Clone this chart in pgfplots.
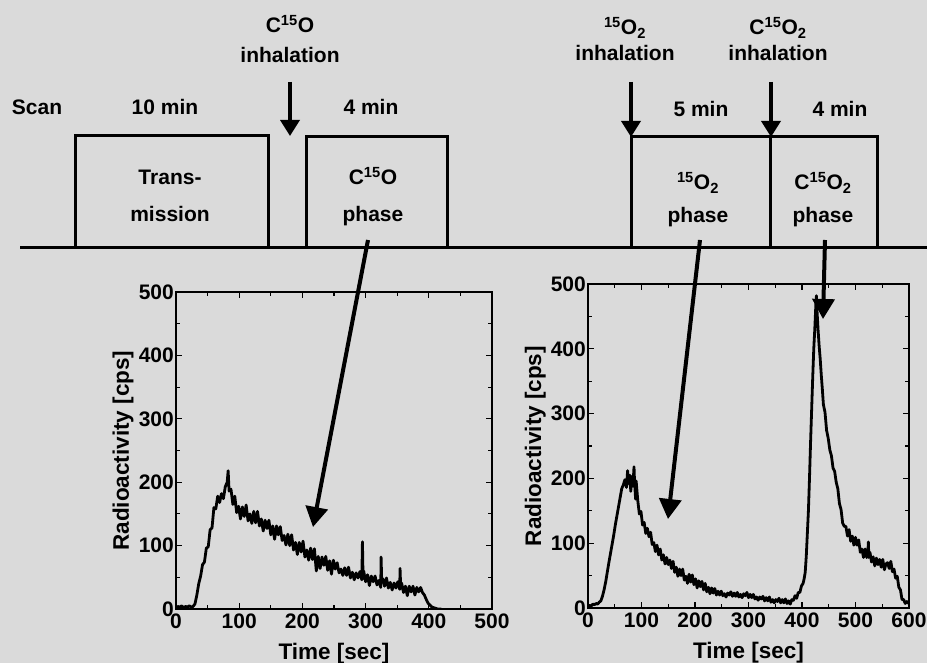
\documentclass[border=0pt]{standalone}
\usepackage{pgfplots}
\pgfplotsset{compat=1.18}
\usepackage{fontspec}
\setmainfont{Liberation Sans}
\usetikzlibrary{arrows.meta}
\definecolor{bgcol}{RGB}{218,218,218}
\newcommand{\txt}{\fontsize{21}{25}\selectfont\bfseries}
\pgfplotsset{
  radstyle/.style={
    scale only axis,
    ymin=0, ymax=500,
    ytick={0,100,...,500},
    minor tick num=1,
    tick align=inside,
    xtick pos=both, ytick pos=both,
    major tick length=6pt, minor tick length=4pt,
    axis line style={line width=1.2pt},
    every tick/.style={line width=1.1pt, black},
    /pgf/number format/assume math mode=true,
    tick label style={font=\fontsize{21}{21}\selectfont\bfseries, inner sep=0pt},
    xticklabel style={yshift=-5pt},
    yticklabel style={xshift=-2pt},
    xlabel={\bfseries Time [sec]},
    ylabel={\bfseries Radioactivity [cps]},
    label style={font=\fontsize{22.5}{22.5}\selectfont},
    xlabel style={at={(axis description cs:0.5,0)}, anchor=base, yshift=-50pt},
  }
}
\begin{document}
\begin{tikzpicture}
\path[use as bounding box, fill=bgcol] (0pt,0pt) rectangle (927pt,-663pt);

\begin{axis}[radstyle,
  at={(176pt,-609pt)}, anchor=south west,
  width=316pt, height=317pt,
  xmin=0, xmax=500, xtick={0,100,...,500},
  ylabel style={at={(axis description cs:-0.149,0.5)}, anchor=base, rotate=0},
]
\addplot[black, line width=2.8pt, line join=round] coordinates {
(0,2)(3,4)(6,3)(9,5)(12,2)(15,4)(18,3)(21,5)(24,3)(27,4)(30,8)(33,22)(36,40)(39,52)(42,70)(45,74)(48,96)(51,98)(54,125)(57,128)(60,160)(63,158)(66,178)(69,168)(72,182)(75,174)(78,193)(81,200)(82.5,218)(84,186)(87,189)(90,165)(93,178)(96,152)(99,162)(102,142)(105,161)(108,146)(111,164)(114,139)(117,150)(120,135)(123,154)(126,136)(129,154)(132,131)(135,142)(138,123)(141,140)(144,127)(147,140)(150,117)(153,131)(156,110)(159,131)(162,117)(165,130)(168,108)(171,116)(174,101)(177,118)(180,100)(183,117)(186,93)(189,105)(192,86)(195,105)(198,90)(201,107)(204,82)(207,93)(210,77)(213,96)(216,78)(219,95)(222,60)(225,83)(228,64)(231,82)(234,69)(237,83)(240,61)(243,76)(246,55)(249,77)(252,63)(255,73)(258,57)(261,63)(264,53)(267,65)(270,53)(273,66)(276,49)(279,58)(282,46)(285,57)(288,49)(291,59)(294,46)(295,106)(296,48)(297,60)(300,43)(303,54)(306,37)(309,52)(312,43)(315,52)(318,38)(321,45)(324,34)(324.5,82)(325.5,44)(327,48)(330,36)(333,49)(336,33)(339,42)(342,30)(345,41)(348,33)(351,43)(354,31)(354.5,64)(355.5,35)(357,41)(360,26)(363,36)(366,21)(369,36)(372,27)(375,36)(378,22)(381,34)(384,27)(387,34)(390,26)(393,22)(396,15)(399,9)(402,6)(405,3)(408,2)(411,1)(414,0)(417,0)(420,0)
};
\end{axis}

\begin{axis}[radstyle,
  at={(588pt,-608pt)}, anchor=south west,
  width=321pt, height=324pt,
  xmin=0, xmax=600, xtick={0,100,...,600},
  ylabel style={at={(axis description cs:-0.146,0.5)}, anchor=base, rotate=0},
]
\addplot[black, line width=2.8pt, line join=round] coordinates {
(0,2)(3,4)(6,3)(9,6)(12,5)(15,7)(18,6)(21,9)(24,11)(27,18)(30,28)(33,40)(36,55)(39,70)(42,84)(45,98)(48,112)(51,128)(54,142)(57,156)(60,170)(63,184)(66,190)(69,198)(72,186)(74,212)(75,192)(78,205)(80,180)(81,203)(84,188)(86,218)(87,195)(89,168)(90,196)(93,166)(96,145)(99,149)(102,128)(105,132)(108,115)(111,123)(114,110)(117,117)(120,98)(123,101)(126,87)(129,97)(132,82)(135,91)(138,74)(141,82)(144,68)(147,78)(150,67)(153,74)(156,61)(159,72)(162,55)(165,63)(168,49)(171,60)(174,50)(177,60)(180,43)(183,49)(186,38)(189,52)(192,40)(195,51)(198,36)(201,45)(204,31)(207,42)(210,33)(213,41)(216,28)(219,38)(222,25)(225,32)(228,22)(231,31)(234,23)(237,30)(240,20)(243,26)(246,20)(249,26)(252,19)(255,22)(258,17)(261,23)(264,20)(267,25)(270,18)(273,23)(276,18)(279,24)(282,17)(285,21)(288,16)(291,22)(294,19)(297,24)(300,16)(303,21)(306,16)(309,21)(312,14)(315,17)(318,12)(321,17)(324,14)(327,18)(330,11)(333,16)(336,11)(339,17)(342,9)(345,13)(348,8)(351,13)(354,10)(357,15)(360,8)(363,13)(366,8)(369,14)(372,7)(375,11)(378,6)(381,13)(384,12)(387,19)(390,15)(393,24)(396,24)(399,34)(402,38)(404,45)(406,55)(408,80)(410,115)(412,150)(414,200)(416,255)(418,305)(420,355)(422,400)(424,432)(426,470)(427,482)(428,460)(430,430)(432,405)(434,385)(436,360)(438,338)(440,314)(443,302)(446,274)(449,262)(452,244)(455,235)(458,216)(461,211)(464,194)(467,184)(470,161)(473,152)(476,131)(479,126)(482,126)(485,111)(488,121)(491,103)(494,111)(497,97)(500,109)(503,97)(506,105)(509,86)(512,91)(515,78)(518,91)(521,78)(523,82)(524,102)(525,78)(527,86)(530,71)(533,79)(536,65)(539,77)(542,67)(545,75)(548,63)(551,75)(554,59)(557,68)(560,70)(563,61)(566,72)(569,56)(572,60)(575,46)(578,49)(581,32)(584,28)(587,13)(590,13)(593,7)(596,10)(599,7)
};
\end{axis}

\begin{scope}[x=1pt,y=-1pt]
  % baseline and boxes
  \draw[line width=3pt] (20,248) -- (927,248);
  \draw[line width=3pt] (75,248) -- (75,136) -- (268,136) -- (268,248);
  \draw[line width=3pt] (306,248) -- (306,137) -- (447,137) -- (447,248);
  \draw[line width=3pt] (631,248) -- (631,137) -- (877,137) -- (877,248);
  \draw[line width=3pt] (770,137) -- (770,248);
  % short arrows
  \draw[line width=3.5pt, -{Triangle[width=19pt,length=16pt]}] (290,82) -- (290,136);
  \draw[line width=3.5pt, -{Triangle[width=19pt,length=16pt]}] (631,82) -- (631,137);
  \draw[line width=3.5pt, -{Triangle[width=19pt,length=16pt]}] (771,82) -- (771,137);
  % texts
  \node[anchor=base, inner sep=0pt] at (290,33) {\txt C\textsuperscript{15}O};
  \node[anchor=base, inner sep=0pt] at (290,63) {\txt inhalation};
  \node[anchor=base, inner sep=0pt] at (625,35) {\txt \textsuperscript{15}O\textsubscript{2}};
  \node[anchor=base, inner sep=0pt] at (625,61) {\txt inhalation};
  \node[anchor=base, inner sep=0pt] at (778,35) {\txt C\textsuperscript{15}O\textsubscript{2}};
  \node[anchor=base, inner sep=0pt] at (778,61) {\txt inhalation};
  \node[anchor=base, inner sep=0pt] at (37,115) {\txt Scan};
  \node[anchor=base, inner sep=0pt] at (165,115) {\txt 10 min};
  \node[anchor=base, inner sep=0pt] at (371,115) {\txt 4 min};
  \node[anchor=base, inner sep=0pt] at (701,117) {\txt 5 min};
  \node[anchor=base, inner sep=0pt] at (840,117) {\txt 4 min};
  \node[anchor=base, inner sep=0pt] at (170,185) {\txt Trans-};
  \node[anchor=base, inner sep=0pt] at (170,222) {\txt mission};
  \node[anchor=base, inner sep=0pt] at (373,185) {\txt C\textsuperscript{15}O};
  \node[anchor=base, inner sep=0pt] at (373,222) {\txt phase};
  \node[anchor=base, inner sep=0pt] at (698,190) {\txt \textsuperscript{15}O\textsubscript{2}};
  \node[anchor=base, inner sep=0pt] at (698,223) {\txt phase};
  \node[anchor=base, inner sep=0pt] at (823,190) {\txt C\textsuperscript{15}O\textsubscript{2}};
  \node[anchor=base, inner sep=0pt] at (823,223) {\txt phase};
  % long arrows
  \draw[line width=4pt, -{Triangle[width=22pt,length=20pt]}] (368,240) -- (313,527);
  \draw[line width=4pt, -{Triangle[width=22pt,length=20pt]}] (700,240) -- (668,519);
  \draw[line width=4pt, -{Triangle[width=22pt,length=20pt]}] (825,240) -- (823,319);
\end{scope}
\end{tikzpicture}
\end{document}
